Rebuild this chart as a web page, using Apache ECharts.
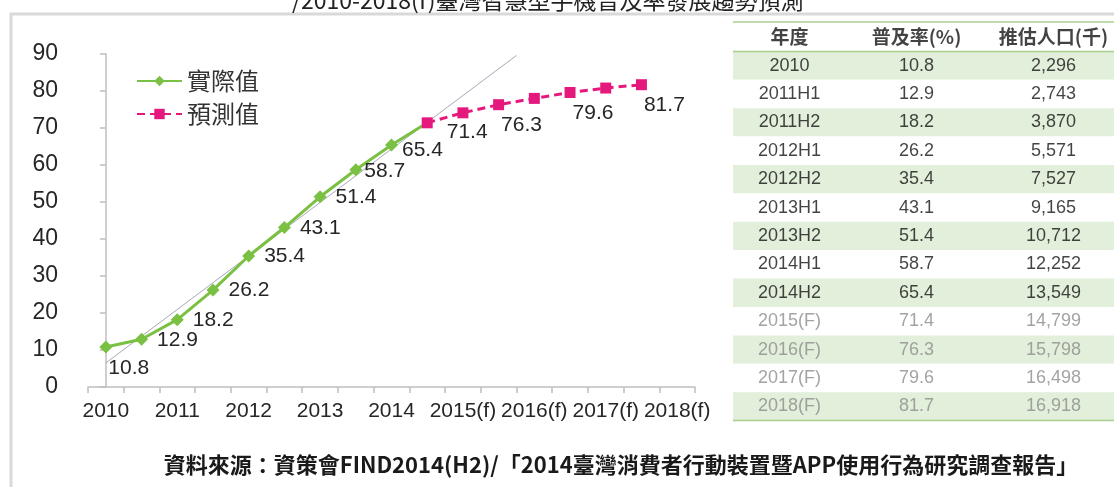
<!DOCTYPE html>
<html>
<head>
<meta charset="utf-8">
<script src="https://cdn.jsdelivr.net/npm/echarts@6/dist/echarts.min.js"></script>
<style>
html,body{margin:0;padding:0;background:#fff;}
#chart{width:1114px;height:487px;}
</style>
</head>
<body>
<div id="chart"></div>
<script>
// ---------- data ----------
const categories = ['2010','2011H1','2011H2','2012H1','2012H2','2013H1','2013H2','2014H1','2014H2','2015H1','2015H2','2016H1','2016H2','2017H1','2017H2','2018H1','2018H2'];
const xTickLabels = ['2010','','2011','','2012','','2013','','2014','','2015(f)','','2016(f)','','2017(f)','','2018(f)'];
const actualValues = [10.8,12.9,18.2,26.2,35.4,43.1,51.4,58.7,65.4,71.4,null,null,null,null,null,null,null];
const forecastValues = [null,null,null,null,null,null,null,null,null,71.4,74.1,76.3,78.0,79.6,80.8,81.7,null];
const forecastLabelled = [71.4,76.3,79.6,81.7];
const trendLine = [[0,6.5],[11.5,89.6]];
const yTicks = [0,10,20,30,40,50,60,70,80,90];

const tableHeader = ['年度','普及率(%)','推估人口(千)'];
const tableYears = ['2010','2011H1','2011H2','2012H1','2012H2','2013H1','2013H2','2014H1','2014H2','2015(F)','2016(F)','2017(F)','2018(F)'];
const tableRates = ['10.8','12.9','18.2','26.2','35.4','43.1','51.4','58.7','65.4','71.4','76.3','79.6','81.7'];
const tablePop = ['2,296','2,743','3,870','5,571','7,527','9,165','10,712','12,252','13,549','14,799','15,798','16,498','16,918'];
const actualRowCount = 9;

const titleText = '/2010-2018(f)臺灣智慧型手機普及率發展趨勢預測';
const sourceText = '資料來源：資策會FIND2014(H2)/「2014臺灣消費者行動裝置暨APP使用行為研究調查報告」';

// ---------- layout ----------
const LAT = '"Liberation Sans", Arial, sans-serif';
const CJK = '"Noto Sans CJK TC", "Noto Sans", sans-serif';
const GREEN = '#7ac143';
const PINK = '#e5197d';
const AXIS = '#bfbfbf';
const TXT = '#262626';

const tblTop = 23, rowH = 28.4, tblLeft = 733;
const tblRows = ['h'].concat(tableYears);
const tblBottom = tblTop + rowH * tblRows.length;

const chart = echarts.init(document.getElementById('chart'));

function actualLabel(i) {
  if (i === 0) return {show:true, position:[9, 28], align:'left', verticalAlign:'middle'};
  if (i === 7) return {show:true, position:[15, 8], align:'left', verticalAlign:'middle'};
  if (i === 8) return {show:true, position:[17, 12], align:'left', verticalAlign:'middle'};
  return {show:true, position:[22, 7], align:'left', verticalAlign:'middle'};
}

const actualData = actualValues.map((v, i) => {
  if (v == null) return null;
  if (i === 9) return {value: v, symbol: 'none', label: {show: false}};
  return {value: v, label: actualLabel(i)};
});
const forecastData = forecastValues.map((v, i) => {
  if (v == null) return null;
  const show = forecastLabelled.indexOf(v) >= 0;
  if (!show) return {value: v, label: {show: false}};
  if (i === 9) return {value: v, label: {show: true, position: [25, 15], align:'left', verticalAlign:'middle'}};
  return {value: v, label: {show: true, position: [8, 26], align:'left', verticalAlign:'middle'}};
});

function cellSeries(values, col, offsetX) {
  return {
    type: 'scatter', xAxisIndex: 2, yAxisIndex: 1, symbolSize: 1, silent: true,
    itemStyle: {color: 'rgba(0,0,0,0)'},
    data: values.map((t, r) => ({
      value: [col, r],
      label: {
        formatter: () => t,
        color: (r <= actualRowCount) ? '#141414' : '#8c8c8c',
        fontWeight: r === 0 ? 'bold' : 'normal',
        fontFamily: r === 0 ? CJK : LAT,
        fontSize: r === 0 ? 19 : 18
      }
    })),
    label: {show: true, position: 'inside', offset: [offsetX, 0]}
  };
}

const option = {
  backgroundColor: '#fff',
  animation: false,
  textStyle: {fontFamily: LAT},
  legend: {
    data: ['實際值', '預測值'],
    orient: 'vertical', left: 131, top: 64,
    itemWidth: 45, itemHeight: 13, itemGap: 9,
    textStyle: {fontFamily: CJK, fontSize: 24, color: '#333'}
  },
  grid: [
    {left: 88, right: 419, top: 54, bottom: 100},
    {left: tblLeft, right: 0, top: tblTop, height: rowH * tblRows.length}
  ],
  xAxis: [
    {
      type: 'category', gridIndex: 0, data: categories, boundaryGap: true,
      axisLine: {lineStyle: {color: AXIS, width: 1.5}},
      axisTick: {show: true, interval: 0, length: 6, lineStyle: {color: AXIS, width: 1.5}},
      axisLabel: {interval: 0, margin: 14, fontSize: 21, color: TXT, fontFamily: LAT,
        formatter: (v, i) => xTickLabels[i]},
      splitLine: {show: false}
    },
    {type: 'value', gridIndex: 0, min: -0.5, max: 16.5, show: false},
    {type: 'category', gridIndex: 1, data: tableHeader, show: true,
      axisLine: {show: false}, axisTick: {show: false}, axisLabel: {show: false}, splitLine: {show: false}}
  ],
  yAxis: [
    {
      type: 'value', gridIndex: 0, min: 0, max: 90, interval: 10,
      axisLine: {show: true, lineStyle: {color: AXIS, width: 1.5}},
      axisTick: {show: true, length: 6, lineStyle: {color: AXIS, width: 1.5}},
      axisLabel: {margin: 30, fontSize: 23, color: TXT, fontFamily: LAT,
        formatter: v => yTicks.indexOf(v) >= 0 ? String(v) : ''},
      splitLine: {show: false}
    },
    {type: 'category', gridIndex: 1, data: tblRows, inverse: true,
      axisLine: {show: false}, axisTick: {show: false}, axisLabel: {show: false}, splitLine: {show: false},
      splitArea: {show: true, interval: 0, areaStyle: {color: ['#ffffff', '#e2efda']}}}
  ],
  series: [
    {
      name: 'trend', type: 'line', xAxisIndex: 1, yAxisIndex: 0, data: trendLine,
      symbol: 'none', silent: true, z: 1,
      lineStyle: {color: '#a8a8b8', width: 1}
    },
    {
      name: '實際值', type: 'line', xAxisIndex: 0, yAxisIndex: 0, data: actualData,
      symbol: 'diamond', symbolSize: 13, z: 3, connectNulls: false,
      itemStyle: {color: GREEN},
      lineStyle: {color: GREEN, width: 3},
      label: {fontSize: 21, color: TXT, fontFamily: LAT}
    },
    {
      name: '預測值', type: 'line', xAxisIndex: 0, yAxisIndex: 0, data: forecastData,
      symbol: 'rect', symbolSize: 11, z: 4,
      itemStyle: {color: PINK},
      lineStyle: {color: PINK, width: 3, type: [8, 5]},
      label: {fontSize: 21, color: TXT, fontFamily: LAT}
    },
    cellSeries([tableHeader[0]].concat(tableYears), 0, -7),
    cellSeries([tableHeader[1]].concat(tableRates), 1, -7),
    cellSeries([tableHeader[2]].concat(tablePop), 2, 3)
  ],
  graphic: [
    {type: 'rect', z: -10, silent: true,
      shape: {x: 11, y: 14, width: 1200, height: 600},
      style: {fill: 'none', stroke: '#d9d9d9', lineWidth: 3}},
    {type: 'text', z: 5, silent: true, x: 292, y: 12,
      style: {text: titleText, font: '23px ' + CJK, fill: '#222', textVerticalAlign: 'bottom'}},
    {type: 'line', z: 5, silent: true, shape: {x1: tblLeft, y1: tblTop - 1, x2: 1114, y2: tblTop - 1},
      style: {stroke: '#a9d08e', lineWidth: 1.5}},
    {type: 'line', z: 5, silent: true, shape: {x1: tblLeft, y1: tblTop + rowH, x2: 1114, y2: tblTop + rowH},
      style: {stroke: '#a9d08e', lineWidth: 1.5}},
    {type: 'line', z: 5, silent: true, shape: {x1: tblLeft, y1: tblBottom, x2: 1114, y2: tblBottom},
      style: {stroke: '#a9d08e', lineWidth: 1.5}},
    {type: 'text', z: 5, silent: true, x: 621, y: 465,
      style: {text: sourceText, font: 'bold 22px ' + CJK, fill: '#1a1a1a', textAlign: 'center', textVerticalAlign: 'middle'}}
  ]
};
chart.setOption(option);
</script>
</body>
</html>
